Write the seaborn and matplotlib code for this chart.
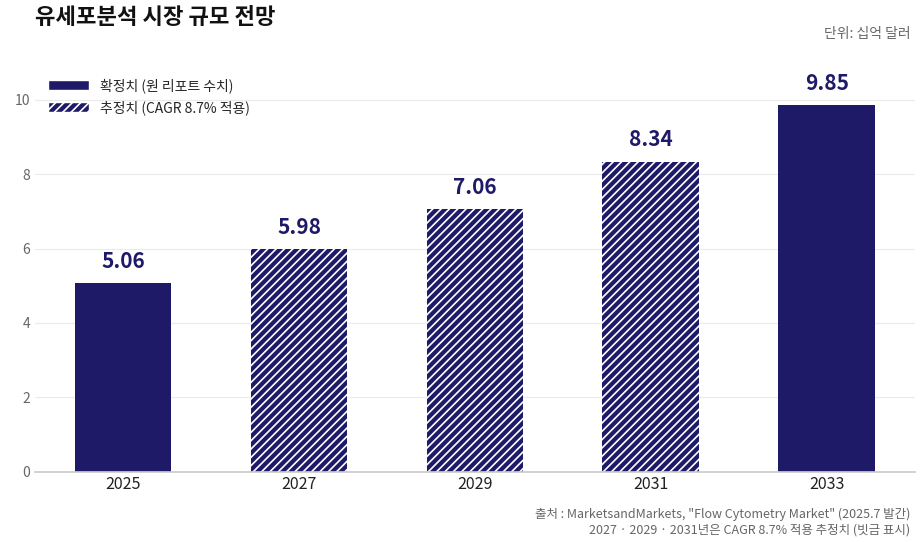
import matplotlib
matplotlib.use("Agg")
import matplotlib.pyplot as plt
import seaborn as sns
import pandas as pd
from matplotlib.patches import Patch

years = ["2025", "2027", "2029", "2031", "2033"]
values = [5.06, 5.98, 7.06, 8.34, 9.85]
kinds = ["확정치", "추정치", "추정치", "추정치", "확정치"]

sns.set_theme(style="white")
plt.rcParams['font.family'] = ['Noto Sans CJK KR', 'DejaVu Sans']
plt.rcParams['hatch.color'] = 'white'
plt.rcParams['hatch.linewidth'] = 1.2

navy = "#1e1a68"
df = pd.DataFrame({"year": years, "value": values})
fig = plt.figure(figsize=(9.24, 5.42), dpi=100)
ax = fig.add_axes([0.038, 0.13, 0.952, 0.72])
sns.barplot(data=df, x="year", y="value", color=navy, width=0.55, ax=ax, saturation=1)
for p, k in zip(ax.patches, kinds):
    p.set_facecolor(navy)
    p.set_edgecolor(navy if k == "확정치" else "white")
    p.set_linewidth(0)
    if k == "추정치":
        p.set_hatch("////")
for i, v in enumerate(values):
    ax.text(i, v + 0.3, f"{v:.2f}", ha="center", va="bottom", fontsize=15, fontweight="bold", color=navy)
ax.set_ylim(0, 10.5)
ax.set_yticks([0, 2, 4, 6, 8, 10])
ax.yaxis.grid(True, color="#ebebeb", linewidth=0.8)
ax.set_axisbelow(True)
for s in ["top", "right", "left"]:
    ax.spines[s].set_visible(False)
ax.spines["bottom"].set_color("#cccccc")
ax.set_xlabel(""); ax.set_ylabel("")
ax.tick_params(axis="y", colors="#666666", labelsize=10, length=0)
ax.tick_params(axis="x", colors="#222222", labelsize=11.5, length=0)
h = [Patch(facecolor=navy, label="확정치 (원 리포트 수치)"),
     Patch(facecolor=navy, hatch="////", edgecolor="white", label="추정치 (CAGR 8.7% 적용)")]
ax.legend(handles=h, loc="upper left", bbox_to_anchor=(0.0, 1.04), frameon=False, fontsize=10, handlelength=3)
fig.text(0.038, 0.955, "유세포분석 시장 규모 전망", fontsize=16, fontweight="bold", color="#111111")
fig.text(0.985, 0.93, "단위: 십억 달러", ha="right", fontsize=10, color="#666666")
fig.text(0.985, 0.045, '출처 : MarketsandMarkets, "Flow Cytometry Market" (2025.7 발간)', ha="right", fontsize=9, color="#666666")
fig.text(0.985, 0.015, "2027 · 2029 · 2031년은 CAGR 8.7% 적용 추정치 (빗금 표시)", ha="right", fontsize=9, color="#666666")
fig.savefig("out.png", dpi=100)
